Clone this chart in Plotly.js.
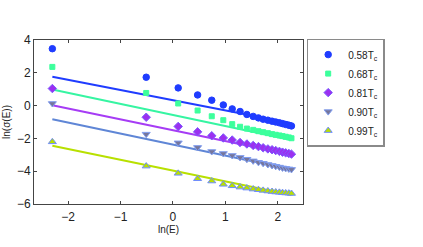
<!DOCTYPE html>
<html><head><meta charset="utf-8">
<script src="https://cdn.plot.ly/plotly-3.0.1.min.js"></script>
<style>html,body{margin:0;padding:0;background:#fff}#c{width:423px;height:247px}</style>
</head><body><div id="c"></div>
<script>
var lnE = [-2.30, -0.51, 0.10, 0.47, 0.74, 0.96, 1.13, 1.28, 1.41, 1.53, 1.63, 1.72, 1.81, 1.89, 1.96, 2.03, 2.09, 2.15, 2.21, 2.26];
var labels = ['0.58T<sub>c</sub>', '0.68T<sub>c</sub>', '0.81T<sub>c</sub>', '0.90T<sub>c</sub>', '0.99T<sub>c</sub>'];
var s058 = [3.47, 1.73, 1.08, 0.65, 0.33, 0.04, -0.20, -0.36, -0.54, -0.66, -0.75, -0.83, -0.89, -0.95, -1.00, -1.05, -1.10, -1.15, -1.20, -1.24];
var s068 = [2.36, 0.77, 0.13, -0.30, -0.65, -0.89, -1.13, -1.29, -1.40, -1.48, -1.56, -1.62, -1.68, -1.74, -1.78, -1.82, -1.86, -1.90, -1.94, -1.99];
var s081 = [1.04, -0.71, -1.27, -1.60, -1.84, -1.97, -2.10, -2.25, -2.34, -2.43, -2.50, -2.57, -2.64, -2.69, -2.74, -2.79, -2.84, -2.88, -2.92, -2.96];
var s090 = [0.13, -1.74, -2.27, -2.55, -2.80, -2.92, -3.04, -3.16, -3.27, -3.37, -3.46, -3.52, -3.59, -3.65, -3.70, -3.75, -3.80, -3.83, -3.86, -3.89];
var s099 = [-2.21, -3.69, -4.13, -4.46, -4.60, -4.80, -4.89, -4.97, -5.03, -5.09, -5.13, -5.17, -5.21, -5.24, -5.27, -5.29, -5.31, -5.33, -5.34, -5.36];
var fitX = [-2.30, 2.26];
var fit058 = [1.76, -1.08];
var fit068 = [0.98, -2.10];
var fit081 = [0.02, -3.00];
var fit090 = [-0.83, -3.89];
var fit099 = [-2.45, -5.45];

var series = [s058, s068, s081, s090, s099];
var fits = [fit058, fit068, fit081, fit090, fit099];
var lineColors = ['#1f3cff', '#36f5a2', '#a63cf5', '#5f86d6', '#b8e000'];
var markerFill = ['#1f3cff', '#3cff9c', '#9b30f0', '#76769a', '#b8e000'];
var markerEdge = ['#1f3cff', '#3cff9c', '#7b5cff', '#7f9cf0', '#6f8cff'];
var symbols = ['circle', 'square', 'diamond', 'triangle-down', 'triangle-up'];
var sizes = [6.5, 5, 6.5, 7, 7];

var data = [];
for (var i = 0; i < 5; i++) {
  data.push({x: fitX, y: fits[i], mode: 'lines', showlegend: false, hoverinfo: 'skip',
    line: {color: lineColors[i], width: 2}});
}
for (var i = 0; i < 5; i++) {
  data.push({x: lnE, y: series[i], mode: 'markers', name: labels[i],
    marker: {symbol: symbols[i], size: sizes[i], color: markerFill[i],
      line: {color: markerEdge[i], width: 1}}});
}

var layout = {
  width: 423, height: 247,
  margin: {l: 34, r: 120, t: 40, b: 43},
  paper_bgcolor: '#fff', plot_bgcolor: '#fff',
  font: {family: 'Liberation Sans, Arial, sans-serif', color: '#222'},
  showlegend: true,
  legend: {x: 1.0137, y: 1.0085, xanchor: 'left', yanchor: 'top',
    bordercolor: '#8a8a8a', borderwidth: 1.5, bgcolor: '#fff',
    font: {size: 10, color: '#222'}, traceorder: 'normal', tracegroupgap: 0},
  xaxis: {range: [-2.65, 2.48], tickvals: [-2, -1, 0, 1, 2], ticks: 'inside', ticklen: 3,
    tickcolor: '#444', showline: true, linecolor: '#444', linewidth: 1, mirror: 'allticks',
    showgrid: false, zeroline: false, tickfont: {size: 12}, ticklabelstandoff: 2,
    title: {text: 'ln(E)', font: {size: 10}, standoff: 1}},
  yaxis: {range: [-6, 4], tickvals: [-6, -4, -2, 0, 2, 4], ticks: 'inside', ticklen: 3,
    tickcolor: '#444', showline: true, linecolor: '#444', linewidth: 1, mirror: 'allticks',
    showgrid: false, zeroline: false, tickfont: {size: 12},
    title: {text: 'ln(σ(E))', font: {size: 10}, standoff: 4}}
};
Plotly.newPlot('c', data, layout, {displayModeBar: false, staticPlot: true});
</script></body></html>
